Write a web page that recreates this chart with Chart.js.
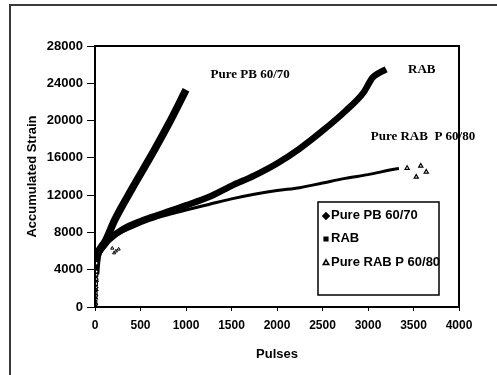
<!DOCTYPE html>
<html>
<head>
<meta charset="utf-8">
<script src="https://cdn.jsdelivr.net/npm/chart.js@4/dist/chart.umd.min.js"></script>
<style>
  body { margin: 0; background: #fff; }
  canvas { display: block; }
</style>
</head>
<body>
<canvas id="myChart" width="497" height="375"></canvas>
<script>
// values
var pbPulses = [1, 3, 5, 7, 9, 12, 30, 60, 110, 220, 407, 650, 813, 1000];
var pbStrain = [300, 1200, 2100, 3000, 3800, 4700, 5700, 6300, 7000, 9400, 12700, 16800, 19700, 23300];

var rabPulses = [1, 4, 8, 12, 30, 60, 100, 150, 300, 500, 750, 1000, 1250, 1500, 1750, 2000, 2250, 2500, 2750, 2950, 3050, 3120, 3200];
var rabStrain = [500, 1500, 2500, 3500, 5400, 6100, 6600, 7200, 8300, 9200, 10050, 10900, 11800, 13000, 14100, 15400, 17000, 18900, 21000, 23000, 24600, 25100, 25500];

var p6080Pulses = [2, 5, 8, 11, 30, 50, 100, 200, 400, 600, 800, 1000, 1250, 1500, 1750, 2000, 2250, 2500, 2750, 3000, 3340, 3430, 3530, 3580, 3640];
var p6080Strain = [200, 1000, 1900, 2900, 5000, 5800, 6700, 7500, 8500, 9300, 9900, 10400, 11000, 11600, 12100, 12500, 12800, 13300, 13800, 14200, 14850, 14900, 13950, 15130, 14500];

var strayPulses = [190, 210, 230, 260];
var strayStrain = [6300, 5800, 6000, 6200];

var xTicks = [0, 500, 1000, 1500, 2000, 2500, 3000, 3500, 4000];
var yTicks = [0, 4000, 8000, 12000, 16000, 20000, 24000, 28000];

var seriesNames = ['Pure PB 60/70', 'RAB', 'Pure RAB P 60/80'];
var seriesNotes = [
	{ text: 'Pure PB 60/70', x: 1270, y: 24900 },
	{ text: 'RAB', x: 3440, y: 25450 },
	{ text: 'Pure RAB  P 60/80', x: 3030, y: 18250 }
];

function toPoints(xs, ys) {
	var pts = [];
	for (var i = 0; i < xs.length; i++) pts.push({ x: xs[i], y: ys[i] });
	return pts;
}

// markers only where the readings are sparse (start column and scattered tail)
function markerRadius(ctx) {
	var v = ctx.raw;
	if (!v) return 0;
	return (v.x <= 12 || v.x > 3350) ? 2.4 : 0;
}
function segColor(ctx) {
	if (ctx.p1.parsed.x <= 12 || ctx.p1.parsed.x > 3350) return 'rgba(0,0,0,0)';
	return '#000';
}

function makeSeries(label, xs, ys, style, width) {
	return {
		label: label,
		data: toPoints(xs, ys),
		showLine: true,
		borderColor: '#000',
		backgroundColor: '#fff',
		borderWidth: width,
		borderJoinStyle: 'round',
		cubicInterpolationMode: 'monotone',
		pointStyle: style,
		pointRadius: markerRadius,
		pointBorderWidth: 1.2,
		pointBorderColor: '#000',
		pointBackgroundColor: '#fff',
		segment: { borderColor: segColor }
	};
}

function plainNumber(v) { return String(v); }

var frame = {
	id: 'frame',
	beforeDraw: function(chart) {
		var c = chart.ctx;
		c.save();
		c.fillStyle = '#fff';
		c.fillRect(0, 0, chart.width, chart.height);
		c.strokeStyle = '#3a3a3a';
		c.lineWidth = 2;
		c.beginPath();
		c.moveTo(10, chart.height);
		c.lineTo(10, 5);
		c.lineTo(chart.width, 5);
		c.stroke();
		c.restore();
	},
	afterDraw: function(chart) {
		var c = chart.ctx, a = chart.chartArea;
		var xs = chart.scales.x, ys = chart.scales.y;
		c.save();
		c.strokeStyle = '#000';
		c.lineWidth = 2;
		c.strokeRect(a.left, a.top, a.right - a.left, a.bottom - a.top);

		// curve labels
		c.fillStyle = '#000';
		c.font = 'bold 13px "Liberation Serif", "Times New Roman", serif';
		c.textBaseline = 'middle';
		c.textAlign = 'left';
		seriesNotes.forEach(function(n) {
			c.fillText(n.text, xs.getPixelForValue(n.x), ys.getPixelForValue(n.y));
		});

		// legend box inside the plot
		var lx = 318, ly = 202, lw = 121, lh = 93;
		c.fillStyle = '#fff';
		c.fillRect(lx, ly, lw, lh);
		c.lineWidth = 1.5;
		c.strokeRect(lx, ly, lw, lh);
		var styles = ['rectRot', 'rect', 'triangle'];
		var rows = [215, 238, 262];
		c.font = 'bold 13px "Liberation Sans", Arial, sans-serif';
		for (var i = 0; i < seriesNames.length; i++) {
			var filled = i < 2;
			c.fillStyle = filled ? '#000' : '#fff';
			c.strokeStyle = '#000';
			Chart.helpers.drawPoint(c, {
				pointStyle: styles[i],
				radius: i === 1 ? 2.6 : 3.2,
				borderWidth: 1,
				rotation: 0
			}, 326, rows[i] + 1);
			c.fillStyle = '#000';
			c.fillText(seriesNames[i], 331, rows[i]);
		}
		c.restore();
	}
};

var ctx = document.getElementById('myChart').getContext('2d');
var myChart = new Chart(ctx, {
	type: 'scatter',
	data: {
		datasets: [
			makeSeries(seriesNames[0], pbPulses, pbStrain, 'rectRot', 7.5),
			makeSeries(seriesNames[1], rabPulses, rabStrain, 'rect', 6.5),
			makeSeries(seriesNames[2], p6080Pulses, p6080Strain, 'triangle', 3),
			{
				label: 'stray',
				data: toPoints(strayPulses, strayStrain),
				showLine: false,
				pointStyle: 'triangle',
				pointRadius: 1.8,
				pointBorderWidth: 1,
				pointBorderColor: '#000',
				pointBackgroundColor: '#fff'
			}
		]
	},
	options: {
		responsive: false,
		animation: false,
		devicePixelRatio: 1,
		layout: { padding: { left: 10, top: 46, right: 38, bottom: 10 } },
		plugins: {
			legend: { display: false },
			tooltip: { enabled: false }
		},
		scales: {
			x: {
				type: 'linear',
				min: 0,
				max: 4000,
				afterBuildTicks: function(s) { s.ticks = xTicks.map(function(v) { return { value: v }; }); },
				afterFit: function(s) { s.height = 58; },
				grid: { drawOnChartArea: false, drawTicks: true, tickLength: 4, color: '#000' },
				border: { color: '#000', width: 2 },
				ticks: {
					color: '#000',
					padding: 7,
					maxRotation: 0,
					callback: plainNumber,
					font: { family: '"Liberation Sans", Arial, sans-serif', size: 12, weight: 'bold' }
				},
				title: {
					display: true,
					text: 'Pulses',
					color: '#000',
					padding: { top: 4, bottom: 3 },
					font: { family: '"Liberation Sans", Arial, sans-serif', size: 13, weight: 'bold' }
				}
			},
			y: {
				type: 'linear',
				min: 0,
				max: 28000,
				afterBuildTicks: function(s) { s.ticks = yTicks.map(function(v) { return { value: v }; }); },
				afterFit: function(s) { s.width = 85; },
				grid: { drawOnChartArea: false, drawTicks: true, tickLength: 8, color: '#000' },
				border: { color: '#000', width: 2 },
				ticks: {
					color: '#000',
					padding: 4,
					callback: plainNumber,
					font: { family: '"Liberation Sans", Arial, sans-serif', size: 13, weight: 'bold' }
				},
				title: {
					display: true,
					text: 'Accumulated Strain',
					color: '#000',
					padding: { top: 15, bottom: 4 },
					font: { family: '"Liberation Sans", Arial, sans-serif', size: 13, weight: 'bold' }
				}
			}
		}
	},
	plugins: [frame]
});
</script>
</body>
</html>
